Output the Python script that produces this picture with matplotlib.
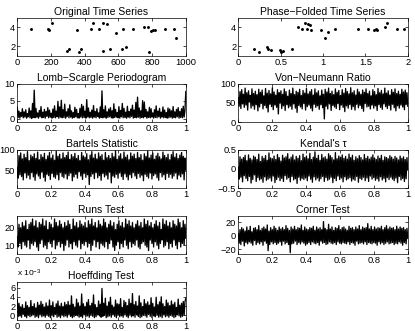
import matplotlib
matplotlib.use("Agg")
import matplotlib.pyplot as plt
import numpy as np

plt.rcParams["font.family"] = ["Liberation Sans", "DejaVu Sans"]
plt.rcParams["font.size"] = 7
plt.rcParams["mathtext.fontset"] = "custom"
plt.rcParams["mathtext.rm"] = "Liberation Sans"
plt.rcParams["mathtext.it"] = "Liberation Sans"

# original observations (time, magnitude)
orig_t = [81, 184, 190, 208, 293, 305, 352, 368, 378, 438, 448, 487, 511, 531, 507,
          550, 586, 626, 622, 646, 689, 749, 774, 782, 794, 808, 818, 875, 929, 941]
orig_y = [3.8, 3.85, 3.7, 4.45, 1.55, 1.7, 3.65, 1.45, 1.75, 3.8, 4.4, 3.8, 4.4, 4.3, 1.5,
          1.75, 3.4, 3.85, 1.7, 1.9, 3.8, 4.0, 4.0, 1.4, 3.6, 3.65, 3.7, 3.8, 3.85, 2.9]

# phase-folded observations (phase, magnitude)
fold_p = [0.18, 0.25, 0.34, 0.35, 0.38, 0.49, 0.50, 0.53, 0.63, 0.71, 0.75, 0.79, 0.81, 0.82, 0.85,
          0.86, 0.97, 1.02, 1.06, 1.14, 1.41, 1.53, 1.60, 1.63, 1.64, 1.73, 1.76, 1.87, 1.96]
fold_y = [1.73, 1.42, 1.92, 1.7, 1.6, 1.6, 1.45, 1.5, 1.73, 4.0, 3.8, 4.4, 3.8, 4.35, 4.25,
          3.65, 3.73, 2.9, 3.45, 3.85, 3.85, 3.8, 3.65, 3.8, 3.7, 4.0, 4.45, 3.8, 3.8]

lomb = [3.2, 0.3, 2.1, 0.1, 1.7, 0.6, 2.8, 0.2, 1.9, 0.4, 2.5, 0.1, 1.4, 0.5, 3.0, 0.2, 2.2, 0.0, 4.3, 0.3,
        8.1, 0.2, 2.9, 0.4, 1.6, 0.1, 2.3, 0.5, 3.4, 0.2, 1.8, 0.3, 2.6, 0.1, 2.0, 0.6, 3.1, 0.2, 2.4, 0.4,
        1.5, 0.1, 2.7, 0.3, 3.6, 0.2, 2.1, 0.5, 4.9, 0.1, 3.3, 0.4, 5.2, 0.2, 2.5, 0.3, 4.1, 0.1, 1.9, 0.6,
        2.8, 0.2, 3.9, 0.4, 2.2, 0.1, 1.7, 0.3, 3.2, 0.5, 2.6, 0.2, 1.4, 0.1, 2.9, 0.4, 4.0, 0.2, 3.5, 0.3,
        2.1, 0.1, 5.4, 0.5, 3.0, 0.2, 1.8, 0.3, 2.4, 0.1, 3.7, 0.4, 2.0, 0.2, 2.8, 0.6, 1.6, 0.1, 3.3, 0.3,
        7.9, 0.2, 2.5, 0.4, 3.6, 0.1, 1.9, 0.3, 2.7, 0.5, 3.1, 0.2, 2.2, 0.1, 4.2, 0.3, 2.6, 0.4, 1.7, 0.2,
        3.4, 0.1, 2.3, 0.5, 4.3, 0.2, 2.9, 0.3, 1.8, 0.1, 3.5, 0.4, 2.0, 0.2, 2.7, 0.6, 3.8, 0.1, 2.4, 0.3,
        4.6, 0.2, 6.1, 0.4, 3.0, 0.1, 2.2, 0.3, 5.1, 0.2, 4.7, 0.5, 2.6, 0.1, 1.9, 0.3, 3.2, 0.2, 2.8, 0.4,
        1.6, 0.1, 2.5, 0.3, 3.6, 0.2, 2.1, 0.5, 2.9, 0.1, 1.8, 0.4, 3.3, 0.2, 2.4, 0.3, 1.7, 0.1, 3.0, 0.2,
        2.7, 0.4, 2.2, 0.1, 3.4, 0.3, 1.9, 0.2, 2.6, 0.5, 3.1, 0.1, 2.0, 0.3, 2.8, 0.2, 3.5, 0.4, 2.3, 7.7]

von_neumann = [63, 41, 79, 35, 84, 47, 72, 38, 88, 44, 76, 31, 81, 52, 69, 36, 86, 42, 74, 33,
               80, 45, 71, 29, 85, 39, 77, 48, 83, 34, 68, 43, 87, 37, 75, 26, 82, 46, 73, 40,
               89, 32, 78, 44, 70, 38, 84, 21, 76, 49, 81, 35, 72, 42, 86, 30, 79, 45, 67, 37,
               83, 41, 74, 33, 88, 47, 71, 36, 80, 25, 77, 43, 85, 39, 69, 34, 82, 48, 75, 31,
               87, 40, 73, 44, 79, 36, 84, 29, 70, 46, 86, 38, 76, 42, 81, 33, 68, 45, 83, 37,
               72, 8, 85, 41, 78, 34, 88, 47, 74, 30, 80, 43, 71, 39, 86, 35, 77, 48, 82, 32,
               69, 44, 84, 38, 75, 27, 87, 42, 79, 36, 73, 45, 89, 33, 76, 40, 81, 31, 70, 46,
               85, 37, 78, 43, 72, 35, 83, 28, 77, 48, 86, 39, 74, 41, 80, 34, 68, 44, 84, 36,
               79, 42, 71, 30, 87, 45, 76, 38, 82, 33, 73, 47, 88, 40, 75, 35, 81, 43, 70, 31,
               84, 46, 77, 37, 86, 29, 74, 42, 80, 36, 72, 44, 85, 39, 78, 32, 83, 45, 76, 41]

bartels = [58, 33, 86, 41, 92, 37, 78, 29, 89, 45, 81, 34, 95, 40, 74, 31, 87, 46, 83, 36,
           90, 28, 79, 43, 94, 38, 76, 32, 88, 47, 82, 35, 91, 26, 77, 42, 85, 39, 93, 30,
           80, 44, 87, 36, 75, 33, 96, 41, 84, 29, 89, 46, 78, 37, 92, 34, 81, 43, 86, 31,
           94, 39, 77, 45, 88, 27, 83, 36, 91, 42, 79, 33, 86, 48, 74, 38, 93, 30, 85, 44,
           82, 35, 90, 41, 76, 18, 87, 37, 95, 43, 80, 32, 89, 46, 78, 34, 92, 39, 84, 28,
           88, 44, 75, 36, 93, 40, 81, 31, 86, 47, 79, 22, 91, 38, 83, 35, 97, 42, 77, 33,
           85, 45, 90, 37, 78, 30, 94, 43, 82, 36, 87, 29, 76, 41, 92, 34, 84, 46, 89, 38,
           79, 32, 93, 44, 81, 35, 88, 40, 75, 27, 90, 42, 84, 37, 96, 33, 80, 45, 87, 31,
           92, 39, 77, 43, 85, 34, 91, 28, 83, 46, 78, 36, 94, 41, 86, 30, 81, 44, 89, 35,
           76, 42, 88, 33, 95, 38, 82, 45, 90, 31, 79, 40, 87, 36, 93, 43, 84, 29, 80, 52]

# Kendall's tau, in hundredths
kendall = [4, -27, 31, -22, 25, -34, 29, -18, 35, -25, 21, -31, 36, -20, 27, -37, 23, -28, 33, -16,
           30, -33, 24, -23, 38, -29, 19, -26, 32, -35, 27, -21, 34, -30, 22, -27, 41, -24, 28, -32,
           26, -19, 33, -36, 24, -28, 37, -22, 29, -31, 20, -25, 35, -33, 28, -18, 31, -27, 39, -23,
           25, -34, 30, -20, 36, -29, 23, -26, 32, -38, 27, -22, 34, -30, 21, -25, 38, -28, 29, -24,
           33, -31, 26, -19, 40, -27, 24, -35, 30, -21, 44, -29, 27, -24, 35, -32, 22, -26, 37, -20,
           28, -33, 31, -23, 25, -30, 39, -27, 34, -22, 29, -36, 23, -25, 42, -31, 26, -19, 33, -28,
           30, -24, 36, -34, 27, -21, 32, -29, 25, -26, 38, -23, 29, -32, 35, -27, 22, -30, 31, -20,
           26, -35, 34, -25, 29, -28, 23, -22, 37, -31, 27, -24, 32, -33, 25, -19, 30, -27, 36, -23,
           28, -30, 24, -26, 33, -32, 27, -21, 35, -29, 22, -25, 31, -34, 29, -23, 26, -28, 34, -22,
           30, -27, 25, -31, 32, -24, 28, -36, 23, -20, 33, -29, 27, -25, 31, -33, 24, -26, 29, -3]

runs = [15, 9, 22, 11, 20, 8, 23, 12, 21, 10, 24, 9, 19, 13, 22, 8, 23, 11, 25, 10,
        21, 12, 24, 9, 20, 7, 23, 11, 22, 13, 25, 9, 21, 10, 24, 8, 19, 12, 23, 11,
        22, 9, 20, 13, 25, 8, 23, 10, 21, 12, 24, 9, 22, 11, 20, 7, 23, 10, 21, 13,
        24, 9, 22, 11, 19, 8, 25, 12, 21, 10, 23, 9, 20, 13, 24, 8, 22, 11, 21, 10,
        23, 12, 20, 9, 24, 11, 22, 7, 25, 10, 21, 13, 23, 9, 20, 12, 24, 8, 22, 11,
        21, 10, 25, 9, 23, 12, 20, 8, 22, 11, 24, 13, 21, 9, 23, 7, 19, 10, 22, 12,
        24, 8, 21, 11, 23, 9, 20, 13, 25, 10, 22, 8, 24, 12, 21, 9, 23, 11, 20, 10,
        22, 13, 24, 9, 21, 8, 23, 11, 20, 12, 25, 10, 22, 9, 24, 7, 21, 13, 23, 11,
        20, 9, 22, 12, 24, 10, 21, 8, 23, 11, 19, 13, 25, 9, 22, 10, 24, 12, 21, 8,
        23, 11, 20, 9, 24, 13, 22, 10, 21, 8, 25, 12, 23, 9, 20, 11, 24, 10, 22, 14]

corner = [3, -11, 9, -13, 12, -8, 10, -15, 7, -10, 13, -12, 8, -9, 14, -11, 6, -14, 11, -7,
          12, -13, 9, -10, 15, -12, 8, -9, 11, -14, 13, -8, 10, -11, 16, -22, 7, -13, 12, -9,
          9, -12, 14, -10, 11, -13, 8, -11, 13, -9, 10, -14, 12, -8, 9, -12, 15, -10, 11, -13,
          8, -25, 13, -12, 10, -11, 14, -8, 9, -13, 12, -10, 11, -12, 16, -9, 8, -11, 13, -14,
          10, -12, 9, -10, 12, -13, 11, -9, 14, -11, 8, -12, 13, -10, 10, -14, 12, -8, 9, -11,
          21, -10, 11, -13, 9, -12, 17, -9, 10, -11, 13, -12, 8, -10, 12, -13, 11, -9, 15, -11,
          9, -12, 12, -10, 13, -11, 10, -12, 8, -9, 14, -13, 11, -10, 12, -11, 9, -14, 13, -8,
          10, -12, 15, -11, 9, -10, 13, -12, 11, -9, 12, -13, 18, -10, 10, -11, 14, -12, 9, -10,
          13, -11, 10, -14, 12, -9, 11, -12, 14, -10, 9, -13, 12, -11, 15, -9, 10, -12, 13, -11,
          11, -10, 12, -13, 9, -11, 14, -12, 10, -9, 13, -11, 11, -14, 12, -10, 9, -12, 11, -4]

# Hoeffding statistic, in units of 1e-3
hoeffding = [3.4, -0.3, 2.6, -0.1, 1.8, -0.4, 2.3, 0.2, 1.5, -0.2, 2.9, -0.5, 2.1, 0.0, 1.7, -0.3, 3.2, -0.1, 1.9, 0.1,
             2.5, -0.4, 1.6, -0.2, 2.8, -0.5, 2.2, 0.1, 3.0, -0.3, 2.4, -0.1, 1.8, -0.4, 2.7, 0.0, 2.0, -0.2, 3.3, -0.5,
             2.1, -0.1, 2.9, -0.3, 1.7, 0.2, 2.5, -0.4, 3.1, -0.2, 2.0, -0.5, 2.6, 0.0, 1.9, -0.3, 2.8, -0.1, 2.3, -0.4,
             3.0, 0.1, 2.2, -0.2, 4.2, -0.5, 2.4, -0.3, 1.8, 0.0, 3.5, -0.1, 2.7, -0.4, 2.0, -0.2, 4.6, -0.5, 2.5, 0.1,
             1.9, -0.3, 2.8, -0.1, 3.4, -0.4, 2.1, 0.0, 2.6, -0.2, 4.4, -0.5, 2.3, -0.3, 1.7, 0.1, 3.1, -0.1, 2.4, -0.4,
             5.8, -0.2, 2.6, 0.0, 3.7, -0.5, 2.0, -0.3, 2.9, -0.1, 3.9, -0.4, 2.2, 0.1, 1.8, -0.2, 3.3, -0.5, 2.5, 0.0,
             2.4, -0.3, 3.6, -0.1, 1.7, -0.4, 3.2, 0.1, 2.8, -0.2, 2.1, -0.5, 3.5, 0.0, 2.6, -0.3, 4.7, -0.1, 2.3, -0.4,
             3.0, 0.1, 2.0, -0.2, 4.2, -0.5, 2.7, -0.3, 1.9, 0.0, 3.4, -0.1, 2.5, -0.4, 2.9, 0.2, 2.2, -0.2, 3.8, -0.5,
             2.6, -0.1, 1.8, -0.3, 3.9, 0.0, 2.3, -0.4, 2.9, -0.2, 4.0, -0.5, 2.5, 0.1, 1.9, -0.3, 3.3, -0.1, 2.7, -0.4,
             2.1, 0.0, 3.1, -0.2, 2.4, -0.5, 2.8, -0.3, 1.7, 0.1, 3.5, -0.1, 2.2, -0.4, 2.6, -0.2, 3.0, 0.0, 2.9, 3.7]

W, H = 415, 331
fig = plt.figure(figsize=(W / 100, H / 100), dpi=100)


def make_axes(row, col):
    left = 17.3 if col == 0 else 238.3
    width = 168.5 if col == 0 else 169.5
    top = 17.5 + 66 * row
    height = 38.5
    ax = fig.add_axes([left / W, 1 - (top + height) / H, width / W, height / H])
    ax.tick_params(direction="in", length=2, width=0.5, top=True, right=True,
                   labelsize=6.7, pad=1.5)
    for s in ax.spines.values():
        s.set_linewidth(0.5)
    return ax


def line_plot(ax, values, title):
    x = np.linspace(0, 1, len(values))
    ax.plot(x, values, color="black", linewidth=0.95)
    ax.set_title(title, fontsize=7.5, pad=1.5)
    ax.set_xlim(0, 1)
    ax.set_xticks([0, 0.2, 0.4, 0.6, 0.8, 1])
    ax.set_xticklabels(["0", "0.2", "0.4", "0.6", "0.8", "1"])


ax = make_axes(0, 0)
ax.plot(orig_t, orig_y, ".", color="black", markersize=2.2)
ax.set_xlim(0, 1000)
ax.set_ylim(1, 5)
ax.set_yticks([2, 4])
ax.set_title("Original Time Series", fontsize=7.5, pad=1.5)

ax = make_axes(0, 1)
ax.plot(fold_p, fold_y, ".", color="black", markersize=2.2)
ax.set_xlim(0, 2)
ax.set_ylim(1, 5)
ax.set_xticks([0, 0.5, 1, 1.5, 2])
ax.set_xticklabels(["0", "0.5", "1", "1.5", "2"])
ax.set_yticks([2, 4])
ax.set_title("Phase\u2212Folded Time Series", fontsize=7.5, pad=1.5)

ax = make_axes(1, 0)
line_plot(ax, lomb, "Lomb\u2212Scargle Periodogram")
ax.set_ylim(-1, 10)
ax.set_yticks([0, 5, 10])

ax = make_axes(1, 1)
line_plot(ax, von_neumann, "Von\u2212Neumann Ratio")
ax.set_ylim(0, 100)
ax.set_yticks([0, 50, 100])

ax = make_axes(2, 0)
line_plot(ax, bartels, "Bartels Statistic")
ax.set_ylim(10, 100)
ax.set_yticks([50, 100])

ax = make_axes(2, 1)
line_plot(ax, np.array(kendall) / 100, "Kendal's \u03c4")
ax.set_ylim(-0.5, 0.5)
ax.set_yticks([-0.5, 0, 0.5])
ax.set_yticklabels(["\u22120.5", "0", "0.5"])

ax = make_axes(3, 0)
line_plot(ax, runs, "Runs Test")
ax.set_ylim(5, 27)
ax.set_yticks([10, 20])

ax = make_axes(3, 1)
line_plot(ax, corner, "Corner Test")
ax.set_ylim(-27, 30)
ax.set_yticks([-20, 0, 20])
ax.set_yticklabels(["\u221220", "0", "20"])

ax = make_axes(4, 0)
line_plot(ax, hoeffding, "Hoeffding Test")
ax.set_ylim(-1, 7.3)
ax.set_yticks([0, 2, 4, 6])
ax.text(0.0, 1.06, "x 10$^{-3}$", transform=ax.transAxes, fontsize=6,
        ha="left", va="bottom")

fig.savefig("out.png", dpi=100)
